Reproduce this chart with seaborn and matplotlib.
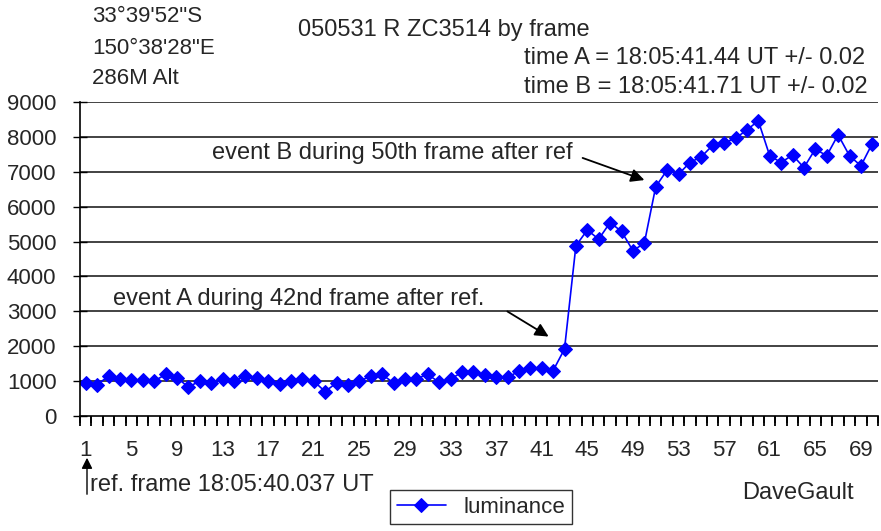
#!/usr/bin/env python3

import numpy as np
import matplotlib
matplotlib.use("Agg")
import matplotlib.pyplot as plt
import pandas as pd
import seaborn as sns

sns.set_style("white")
plt.rcParams['font.family'] = ['Liberation Sans', 'DejaVu Sans']

# frame number and luminance
frames = list(range(1, 71))
luminance = [950, 900, 1140, 1050, 1030, 1030, 1000, 1190, 1100, 830,
             1000, 950, 1050, 1000, 1160, 1100, 1000, 920, 1000, 1050,
             1000, 700, 950, 880, 1000, 1140, 1190, 950, 1070, 1070,
             1190, 970, 1050, 1260, 1260, 1170, 1110, 1110, 1280, 1380,
             1380, 1300, 1920, 4880, 5330, 5070, 5545, 5290, 4740, 4950,
             6570, 7050, 6930, 7265, 7430, 7760, 7830, 7960, 8200, 8460,
             7460, 7265, 7480, 7120, 7650, 7460, 8060, 7460, 7170, 7810]
tick_labels = [str(f) for f in range(1, 71, 4)]
y_ticks = list(range(0, 10000, 1000))

FS = 16
FT = 17

df = pd.DataFrame({'frame': frames, 'luminance': luminance})

fig = plt.figure(figsize=(8.81, 5.31), dpi=100)
ax = fig.add_axes([80 / 881, 1 - 416 / 531, (878 - 80) / 881, (416 - 102) / 531])

sns.lineplot(data=df, x='frame', y='luminance', ax=ax, color='#0000FF',
             marker='D', markersize=7, markeredgecolor='#0000FF',
             linewidth=1.2, label='luminance', legend=False)
sns.despine(ax=ax)

ax.set_xlim(0.5, 70.5)
ax.set_ylim(0, 9000)
ax.set_yticks(y_ticks)
ax.set_yticklabels([str(v) for v in y_ticks], fontsize=FS)
# category boundaries as major ticks, frame labels as minor ticks
boundaries = np.arange(0.5, len(frames) + 1, 1)
ax.set_xticks(boundaries)
ax.set_xticklabels([])
ax.set_xticks([int(t) for t in tick_labels], labels=tick_labels, minor=True)
ax.tick_params(axis='x', which='major', bottom=True, length=7, width=1.3,
               color='black', direction='out')
ax.tick_params(axis='x', which='minor', bottom=True, length=0, pad=17,
               labelsize=FS, labelbottom=True)
ax.tick_params(axis='y', left=True, length=10, width=1, color='black',
               direction='inout', pad=12)
# make sure the category comb shows under the axis
ax.vlines(boundaries, 0, -0.022, transform=ax.get_xaxis_transform(),
          color='black', linewidth=1.2, clip_on=False)
ax.set_xlabel('')
ax.set_ylabel('')

for v in y_ticks[1:]:
    ax.axhline(v, color='#222222', linewidth=1.2, zorder=0)

ax.spines['left'].set_color('black')
ax.spines['bottom'].set_color('black')
ax.spines['left'].set_linewidth(1.2)
ax.spines['bottom'].set_linewidth(1.2)

# header texts
fig.text(92 / 881, 1 - 17 / 531, '33°39\'52"S', fontsize=FS, va='center')
fig.text(92 / 881, 1 - 48 / 531, '150°38\'28"E', fontsize=FS, va='center')
fig.text(92 / 881, 1 - 79 / 531, '286M Alt', fontsize=FS, va='center')
fig.text(298 / 881, 1 - 30 / 531, '050531 R ZC3514 by frame', fontsize=FT, va='center')
fig.text(524 / 881, 1 - 58 / 531, 'time A = 18:05:41.44 UT +/- 0.02', fontsize=FT, va='center')
fig.text(524 / 881, 1 - 87 / 531, 'time B = 18:05:41.71 UT +/- 0.02', fontsize=FT, va='center')

# event annotations
fig.text(212 / 881, 1 - 153 / 531, 'event B during 50th frame after ref', fontsize=FT, va='center')
fig.text(113 / 881, 1 - 299 / 531, 'event A during 42nd frame after ref.', fontsize=FT, va='center')
for (x0, y0), (x1, y1) in [((580, 157), (647, 181)), ((505, 310), (551, 338))]:
    fig.add_artist(matplotlib.patches.FancyArrowPatch(
        (x0 / 881, 1 - y0 / 531), (x1 / 881, 1 - y1 / 531),
        transform=fig.transFigure, arrowstyle='-|>', mutation_scale=20,
        color='black', lw=1.3))

# reference frame marker
fig.add_artist(matplotlib.patches.FancyArrowPatch(
    (87 / 881, 1 - 497 / 531), (87 / 881, 1 - 455 / 531),
    transform=fig.transFigure, arrowstyle='-|>', mutation_scale=16,
    color='black', lw=1))
fig.text(90 / 881, 1 - 485 / 531, 'ref. frame 18:05:40.037 UT', fontsize=FT, va='center')
fig.text(742 / 881, 1 - 493 / 531, 'DaveGault', fontsize=FT, va='center')

leg = fig.legend(handles=ax.get_lines()[:1], labels=['luminance'],
                 loc='upper left', bbox_to_anchor=(390 / 881, 1 - 490 / 531),
                 fontsize=FS, frameon=True, fancybox=False, edgecolor='black',
                 borderaxespad=0, handlelength=2.2, borderpad=0.3)
leg.get_frame().set_linewidth(1)

fig.savefig('out.png', dpi=100)
